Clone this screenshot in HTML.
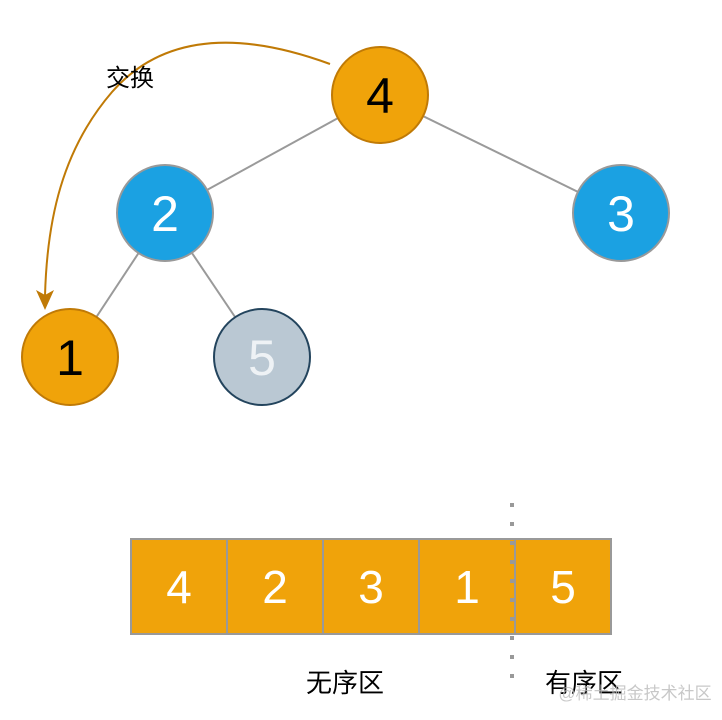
<!DOCTYPE html>
<html><head><meta charset="utf-8"><style>
html,body{margin:0;padding:0;background:#fff;width:722px;height:720px;overflow:hidden}
text{font-family:"Liberation Sans","Noto Sans CJK SC",sans-serif}
</style></head><body>
<svg width="722" height="720" viewBox="0 0 722 720" xmlns="http://www.w3.org/2000/svg">
<g stroke="#9a9a9a" stroke-width="2">
<line x1="380" y1="95" x2="165" y2="213"/>
<line x1="380" y1="95" x2="621" y2="213"/>
<line x1="165" y1="213" x2="70" y2="357"/>
<line x1="165" y1="213" x2="262" y2="357"/>
</g>
<path d="M330,64 C270,42 175,20 112,92 C62,150 47,220 45,296" fill="none" stroke="#c07a06" stroke-width="2"/>
<polygon points="36,290 45,310 54,290 45,295" fill="#c07a06"/>
<text x="130" y="86" font-size="24" text-anchor="middle" fill="#000">交换</text>
<g font-weight="500">
<circle cx="380" cy="95" r="48" fill="#f0a30a" stroke="#c07a06" stroke-width="2"/>
<text x="380" y="113" font-size="50" text-anchor="middle" fill="#000">4</text>
<circle cx="165" cy="213" r="48" fill="#1ba1e2" stroke="#999" stroke-width="2"/>
<text x="165" y="231" font-size="50" text-anchor="middle" fill="#fff">2</text>
<circle cx="621" cy="213" r="48" fill="#1ba1e2" stroke="#999" stroke-width="2"/>
<text x="621" y="231" font-size="50" text-anchor="middle" fill="#fff">3</text>
<circle cx="70" cy="357" r="48" fill="#f0a30a" stroke="#c07a06" stroke-width="2"/>
<text x="70" y="375" font-size="50" text-anchor="middle" fill="#000">1</text>
<circle cx="262" cy="357" r="48" fill="#bac8d3" stroke="#23445d" stroke-width="2"/>
<text x="262" y="375" font-size="50" text-anchor="middle" fill="#eef2f5">5</text>
</g>
<g stroke="#999" stroke-width="2" fill="#f0a30a">
<rect x="131" y="539" width="96" height="95"/>
<rect x="227" y="539" width="96" height="95"/>
<rect x="323" y="539" width="96" height="95"/>
<rect x="419" y="539" width="96" height="95"/>
<rect x="515" y="539" width="96" height="95"/>
</g>
<g font-size="46" fill="#fff" text-anchor="middle">
<text x="179" y="603">4</text><text x="275" y="603">2</text><text x="371" y="603">3</text><text x="467" y="603">1</text><text x="563" y="603">5</text>
</g>
<line x1="512" y1="503" x2="512" y2="682" stroke="#999" stroke-width="4" stroke-dasharray="4,15"/>
<text x="345" y="692" font-size="26" text-anchor="middle" fill="#000">无序区</text>
<text x="584" y="692" font-size="26" text-anchor="middle" fill="#000">有序区</text>
<text x="635" y="699" font-size="17" text-anchor="middle" fill="#bbb" opacity="0.8">@稀土掘金技术社区</text>
</svg>
</body></html>
